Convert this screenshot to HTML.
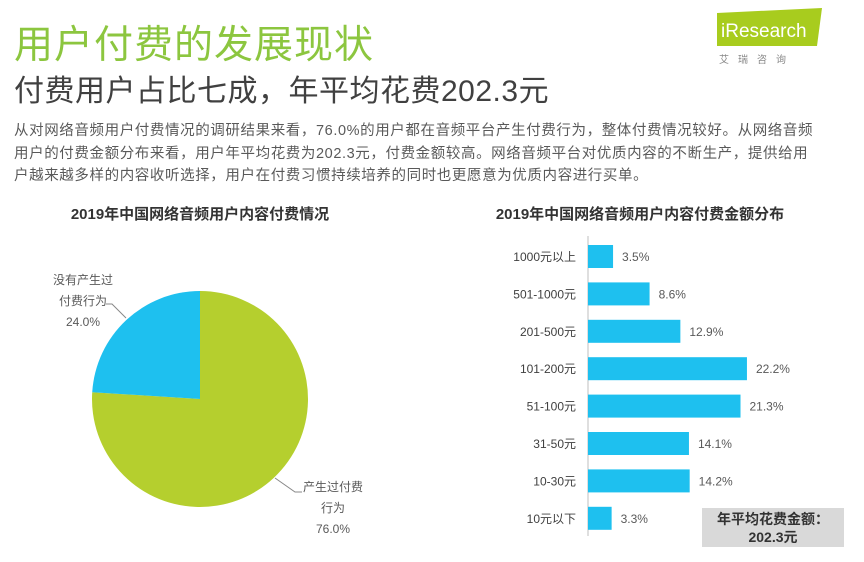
<!DOCTYPE html>
<html><head><meta charset="utf-8">
<style>
body{margin:0;background:#fff;}
#wrap{position:relative;width:864px;height:562px;overflow:hidden;font-family:"Liberation Sans","Noto Sans CJK SC",sans-serif;}
.abs{position:absolute;white-space:nowrap;}
</style></head><body>
<div id="wrap">
<div class="abs" style="left:14px;top:14px;font-size:39px;color:#8cc63f;letter-spacing:1px;">用户付费的发展现状</div>
<div class="abs" style="left:14px;top:66px;font-size:30px;color:#404040;letter-spacing:0.5px;">付费用户占比七成，年平均花费202.3元</div>
<div class="abs" style="left:14px;top:120px;font-size:14.5px;line-height:22.5px;color:#595959;letter-spacing:0.6px;">从对网络音频用户付费情况的调研结果来看，76.0%的用户都在音频平台产生付费行为，整体付费情况较好。从网络音频<br>用户的付费金额分布来看，用户年平均花费为202.3元，付费金额较高。网络音频平台对优质内容的不断生产，提供给用<br>户越来越多样的内容收听选择，用户在付费习惯持续培养的同时也更愿意为优质内容进行买单。</div>
<svg class="abs" style="left:705px;top:5px" width="125" height="60">
<polygon points="12,8 117,3 112,41 12,41" fill="#a8cc1e"/>
<text x="16" y="32" font-size="19" fill="#fff" font-family="Liberation Sans,sans-serif">iResearch</text>
<text x="14" y="58" font-size="10" fill="#888" letter-spacing="9" font-family="Noto Sans CJK SC,sans-serif">艾瑞咨询</text>
</svg>
<div class="abs" style="left:0;width:400px;text-align:center;top:203px;font-size:15px;font-weight:bold;color:#333;">2019年中国网络音频用户内容付费情况</div>
<div class="abs" style="left:440px;width:400px;text-align:center;top:203px;font-size:15px;font-weight:bold;color:#333;">2019年中国网络音频用户内容付费金额分布</div>
<svg id="pie" class="abs" style="left:0;top:0" width="420" height="562"></svg>
<svg id="bar" class="abs" style="left:0;top:0" width="864" height="562"></svg>
<div class="abs" style="left:702px;top:508px;width:142px;height:39px;background:#d9d9d9;text-align:center;font-size:14px;font-weight:bold;color:#333;line-height:18px;padding-top:2px;box-sizing:border-box;">年平均花费金额：<br>202.3元</div>
</div>
<script>
const pieLabels=["产生过付费行为","没有产生过付费行为"];
const pieValues=[76.0,24.0];
const barCategories=["1000元以上","501-1000元","201-500元","101-200元","51-100元","31-50元","10-30元","10元以下"];
const barValues=[3.5,8.6,12.9,22.2,21.3,14.1,14.2,3.3];
const NS="http://www.w3.org/2000/svg";
function mk(t,a,p){const e=document.createElementNS(NS,t);for(const k in a)e.setAttribute(k,a[k]);p.appendChild(e);return e;}
// pie
const pie=document.getElementById('pie');
const cx=200,cy=399,r=108;
const total=pieValues.reduce((a,b)=>a+b,0);
const colors=["#b5cf2e","#1ec0ef"];
let start=0;
pieValues.forEach((v,i)=>{
 const a0=start/total*2*Math.PI,a1=(start+v)/total*2*Math.PI;start+=v;
 const x0=cx+r*Math.sin(a0),y0=cy-r*Math.cos(a0),x1=cx+r*Math.sin(a1),y1=cy-r*Math.cos(a1);
 const large=(a1-a0)>Math.PI?1:0;
 const p=mk('path',{d:`M${cx},${cy}L${x0},${y0}A${r},${r} 0 ${large} 1 ${x1},${y1}Z`,fill:colors[i]},pie);
 
 
});
const pieText=[[["产生过付费","行为",pieValues[0].toFixed(1)+"%"],333,491],[["没有产生过","付费行为",pieValues[1].toFixed(1)+"%"],83,284]];
pieText.forEach((d,i)=>{
 d[0].forEach((s,j)=>{const t=mk('text',{x:d[1],y:d[2]+j*21,'text-anchor':'middle','font-size':12,fill:'#595959'},pie);t.textContent=s;
 
 });
});
const l1=mk('polyline',{points:"275,478 295,492 302,492",fill:'none',stroke:'#888','stroke-width':1},pie);


const l2=mk('polyline',{points:"106,304 112,304 126,318",fill:'none',stroke:'#888','stroke-width':1},pie);


// bars
const bar=document.getElementById('bar');
const x0b=588,pxPer=7.16,top0=245,pitch=37.4,bh=23;
const xs=v=>x0b+v*pxPer;
const ys=i=>top0+i*pitch;
const ax=mk('line',{x1:x0b,y1:236,x2:x0b,y2:536,stroke:'#bfbfbf','stroke-width':1},bar);


barCategories.forEach((c,i)=>{
 const rc=mk('rect',{x:x0b,y:ys(i),width:xs(barValues[i])-x0b,height:bh,fill:'#1ec0ef'},bar);
 
 
 const t=mk('text',{x:576,y:ys(i)+16,'text-anchor':'end','font-size':12,fill:'#404040'},bar);t.textContent=c;
 
 
 const v=mk('text',{x:xs(barValues[i])+9,y:ys(i)+16,'font-size':12,fill:'#595959'},bar);v.textContent=barValues[i].toFixed(1)+'%';
 
 
});
</script>
</body></html>
